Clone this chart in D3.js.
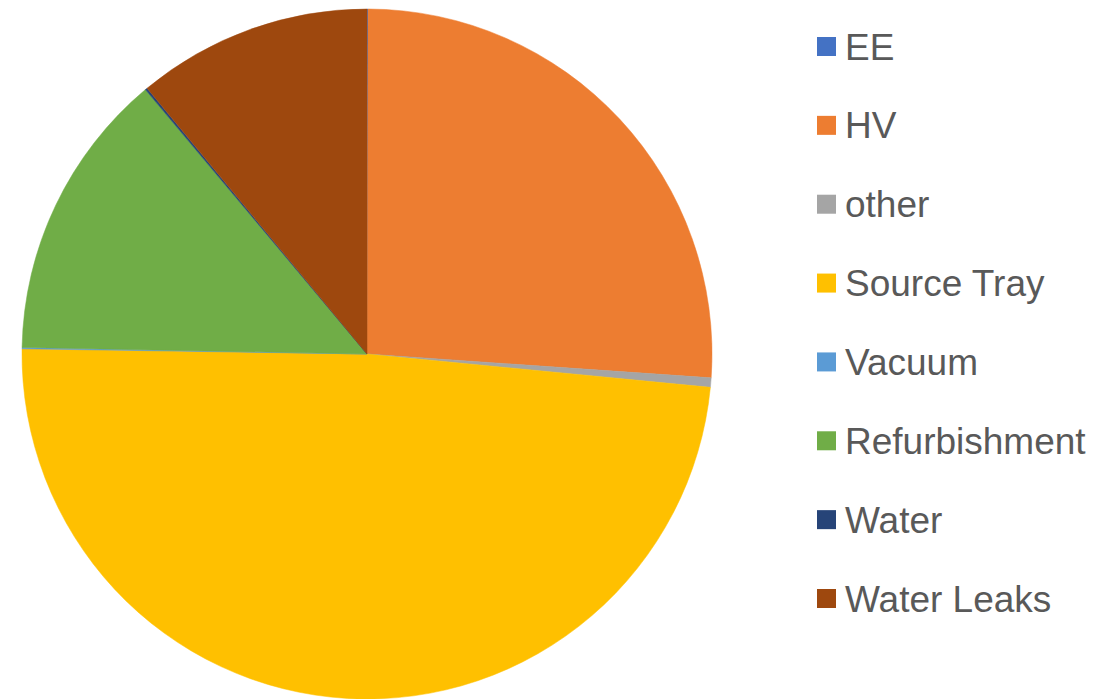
<!DOCTYPE html>
<html>
<head>
<meta charset="utf-8">
<script src="https://cdn.jsdelivr.net/npm/d3@7"></script>
<style>
  html, body { margin: 0; padding: 0; background: #fff; }
  svg { display: block; }
</style>
</head>
<body>
<div id="chart"></div>
<script>
// ---- Data ----
const categories = ["EE", "HV", "other", "Source Tray", "Vacuum", "Refurbishment", "Water", "Water Leaks"];
const values = [0.05, 26.05, 0.44, 48.7, 0.06, 13.6, 0.1, 11.0];
const colors = ["#4472C4", "#ED7D31", "#A5A5A5", "#FFC000", "#5B9BD5", "#70AD47", "#264478", "#9E480E"];

const width = 1117, height = 699;
const cx = 367, cy = 354, radius = 345;

const svg = d3.select("#chart").append("svg")
    .attr("width", width)
    .attr("height", height);

const data = categories.map((c, i) => ({ name: c, value: values[i], color: colors[i] }));

const pie = d3.pie()
    .sort(null)
    .value(d => d.value);

const arc = d3.arc()
    .innerRadius(0)
    .outerRadius(radius);

const pieGroup = svg.append("g")
    .attr("transform", `translate(${cx},${cy})`);

pieGroup.selectAll("path")
    .data(pie(data))
    .enter()
    .append("path")
    .attr("d", arc)
    .attr("fill", d => d.data.color)
    .attr("stroke", d => d.data.color)
    .attr("stroke-width", 0.5);

// ---- Legend ----
const legendY = d3.scalePoint()
    .domain(categories)
    .range([46.5, 598.5]);

const legend = svg.append("g").attr("class", "legend");

const items = legend.selectAll("g")
    .data(data)
    .enter()
    .append("g")
    .attr("transform", d => `translate(817,${legendY(d.name)})`);

items.append("rect")
    .attr("x", 0)
    .attr("y", -9.5)
    .attr("width", 19)
    .attr("height", 19)
    .attr("fill", d => d.color);

items.append("text")
    .attr("x", 28)
    .attr("y", 13)
    .attr("font-family", "Liberation Sans, Arial, sans-serif")
    .attr("font-size", 37)
    .attr("fill", "#595959")
    .text(d => d.name);
</script>
</body>
</html>
